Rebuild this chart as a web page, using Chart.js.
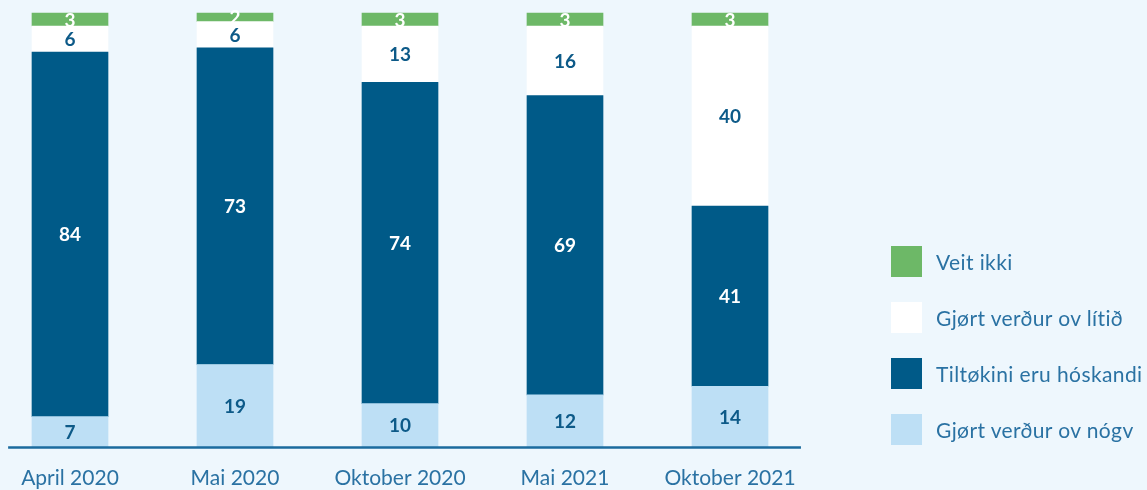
<!DOCTYPE html>
<html>
<head>
<meta charset="utf-8">
<script src="https://cdn.jsdelivr.net/npm/chart.js@4"></script>
<style>
    html, body { margin: 0; padding: 0; background: #eef7fd; overflow: hidden; }
    #wrap { position: relative; width: 1147px; height: 490px; }
    #legend { position: absolute; left: 891px; top: 246px; margin: 0; padding: 0; list-style: none; }
    #legend li { display: flex; align-items: center; height: 31px; margin-bottom: 25px;
        font-family: Lato, "Open Sans", sans-serif; font-size: 21px; letter-spacing: 0.4px;
        color: #2a72a3; white-space: nowrap; }
    #legend .box { width: 31px; height: 31px; margin-right: 14px; flex: none; }
</style>
</head>
<body>
<div id="wrap">
    <canvas id="chart"></canvas>
    <ul id="legend"></ul>
</div>
<script>
// ---------------------------------------------
// DATA (percent)
// ---------------------------------------------
const categories = ["April 2020", "Mai 2020", "Oktober 2020", "Mai 2021", "Oktober 2021"];

const nogv = [7, 19, 10, 12, 14];          // Gjørt verður ov nógv
const hoskandi = [84, 73, 74, 69, 41.5];   // Tiltøkini eru hóskandi
const litid = [6, 6, 13, 16, 41.5];        // Gjørt verður ov lítið
const veitIkki = [3, 2, 3, 3, 3];          // Veit ikki

// printed numbers inside the bars
const nogvText = ["7", "19", "10", "12", "14"];
const hoskandiText = ["84", "73", "74", "69", "41"];
const litidText = ["6", "6", "13", "16", "40"];
const veitIkkiText = ["3", "2", "3", "3", "3"];

const textBlue = "#2a72a3";

// labels in the middle of each segment
const segmentLabels = {
    id: "segmentLabels",
    afterDatasetsDraw(chart) {
        const ctx = chart.ctx;
        ctx.save();
        ctx.font = "bold 19px Lato, 'Open Sans', sans-serif";
        ctx.textAlign = "center";
        ctx.textBaseline = "middle";
        chart.data.datasets.forEach((ds, di) => {
            const meta = chart.getDatasetMeta(di);
            meta.data.forEach((bar, i) => {
                ctx.fillStyle = ds.textColor;
                ctx.fillText(ds.texts[i], bar.x, (bar.y + bar.base) / 2 + 1);
            });
        });
        ctx.restore();
    }
};

// baseline that runs a bit past the outer bars
const baseLine = {
    id: "baseLine",
    afterDatasetsDraw(chart) {
        const { ctx, chartArea, scales } = chart;
        const x0 = scales.x.getPixelForValue(-0.375);
        const x1 = scales.x.getPixelForValue(4.43);
        ctx.save();
        ctx.strokeStyle = "#1b6b9e";
        ctx.lineWidth = 2.5;
        ctx.beginPath();
        ctx.moveTo(x0, chartArea.bottom + 0.5);
        ctx.lineTo(x1, chartArea.bottom + 0.5);
        ctx.stroke();
        ctx.restore();
    }
};

// html legend, top item = top of the stack
const htmlLegend = {
    id: "htmlLegend",
    afterUpdate(chart) {
        const ul = document.getElementById("legend");
        ul.innerHTML = "";
        const items = chart.options.plugins.legend.labels.generateLabels(chart).reverse();
        items.forEach(item => {
            const li = document.createElement("li");
            const box = document.createElement("span");
            box.className = "box";
            box.style.background = item.fillStyle;
            li.appendChild(box);
            li.appendChild(document.createTextNode(item.text));
            ul.appendChild(li);
        });
    }
};

function makeSet(label, data, texts, color, textColor) {
    return {
        label: label,
        data: data,
        texts: texts,
        backgroundColor: color,
        textColor: textColor,
        borderWidth: 0,
        barThickness: 76,
        clip: false
    };
}

document.addEventListener("DOMContentLoaded", () => {
    const canvas = document.getElementById("chart");
    canvas.width = 1147;
    canvas.height = 490;

    new Chart(canvas.getContext("2d"), {
        type: "bar",
        data: {
            labels: categories,
            datasets: [
                makeSet("Gjørt verður ov nógv", nogv, nogvText, "#bddff5", "#0d5a88"),
                makeSet("Tiltøkini eru hóskandi", hoskandi, hoskandiText, "#005a88", "#ffffff"),
                makeSet("Gjørt verður ov lítið", litid, litidText, "#ffffff", "#0d5a88"),
                makeSet("Veit ikki", veitIkki, veitIkkiText, "#6db867", "#ffffff")
            ]
        },
        options: {
            responsive: false,
            animation: false,
            layout: { padding: { left: 70, right: 417, top: 13, bottom: 0 } },
            plugins: {
                legend: { display: false },
                tooltip: { enabled: false }
            },
            scales: {
                x: {
                    stacked: true,
                    offset: false,
                    grid: { display: false },
                    border: { display: false },
                    afterFit: (scale) => { scale.height = 43; },
                    ticks: {
                        color: textBlue,
                        font: { family: "Lato, 'Open Sans', sans-serif", size: 21 },
                        padding: 11,
                        maxRotation: 0,
                        autoSkip: false
                    }
                },
                y: {
                    stacked: true,
                    display: false,
                    min: 0,
                    max: 100
                }
            }
        },
        plugins: [segmentLabels, baseLine, htmlLegend]
    });
});
</script>
</body>
</html>
